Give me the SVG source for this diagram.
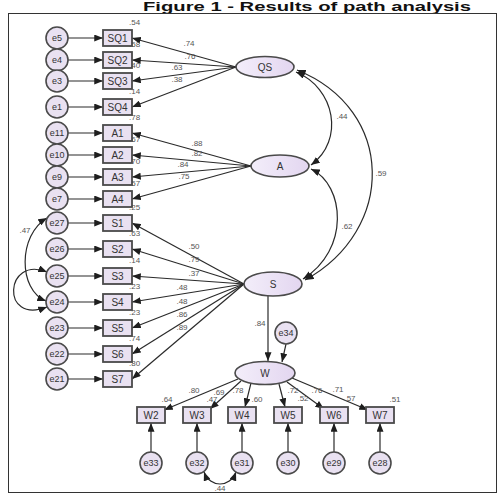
<svg xmlns="http://www.w3.org/2000/svg" width="502" height="495" viewBox="0 0 502 495">
<defs>
<style>
.ln{stroke:#2a2a2a;stroke-width:1.2;fill:none}
.cv{stroke:#2a2a2a;stroke-width:1.2;fill:none}
.box{fill:#e9e1f1;stroke:#4a4a4a;stroke-width:1.8}
.err{fill:#e9e1f1;stroke:#4a4a4a;stroke-width:1.6}
.lat{fill:url(#lg);stroke:#4a4a4a;stroke-width:1.6}
.nt{font-family:"Liberation Sans",Arial,sans-serif;font-size:10px;fill:#333;text-anchor:middle}
.et{font-family:"Liberation Sans",Arial,sans-serif;font-size:9px;fill:#333;text-anchor:middle}
.v{font-family:"Liberation Sans",Arial,sans-serif;font-size:8px;fill:#555}
.vm{font-family:"Liberation Sans",Arial,sans-serif;font-size:8px;fill:#555;text-anchor:middle}
</style>
<linearGradient id="lg" x1="0" y1="0" x2="1" y2="0">
<stop offset="0" stop-color="#f3eefa"/>
<stop offset="1" stop-color="#e3d6f0"/>
</linearGradient>
<marker id="ah" viewBox="0 0 10 8" refX="10" refY="4" markerWidth="9" markerHeight="7" markerUnits="userSpaceOnUse" orient="auto-start-reverse">
<path d="M0,0 L10,4 L0,8 z" fill="#1e1e1e"/>
</marker>
</defs>
<rect width="502" height="495" fill="#fff"/>
<text x="143" y="11" font-family="Liberation Sans,Arial,sans-serif" font-weight="bold" font-size="13" fill="#111" textLength="328" lengthAdjust="spacingAndGlyphs">Figure 1 - Results of path analysis</text>
<rect x="8.5" y="13.5" width="488" height="479" fill="none" stroke="#333" stroke-width="1"/>

<g id="connectors">
<path class="ln" marker-end="url(#ah)" d="M68,38 H103"/>
<path class="ln" marker-end="url(#ah)" d="M68,60 H103"/>
<path class="ln" marker-end="url(#ah)" d="M68,81 H103"/>
<path class="ln" marker-end="url(#ah)" d="M68,107 H103"/>
<path class="ln" marker-end="url(#ah)" d="M68,133 H103"/>
<path class="ln" marker-end="url(#ah)" d="M68,155 H103"/>
<path class="ln" marker-end="url(#ah)" d="M68,177 H103"/>
<path class="ln" marker-end="url(#ah)" d="M68,199 H103"/>
<path class="ln" marker-end="url(#ah)" d="M68,223 H103"/>
<path class="ln" marker-end="url(#ah)" d="M68,249 H103"/>
<path class="ln" marker-end="url(#ah)" d="M68,276 H103"/>
<path class="ln" marker-end="url(#ah)" d="M68,302 H103"/>
<path class="ln" marker-end="url(#ah)" d="M68,328 H103"/>
<path class="ln" marker-end="url(#ah)" d="M68,354 H103"/>
<path class="ln" marker-end="url(#ah)" d="M68,379 H103"/>

<path class="ln" marker-end="url(#ah)" d="M236,67 L132,38"/>
<path class="ln" marker-end="url(#ah)" d="M236,67 L132,60"/>
<path class="ln" marker-end="url(#ah)" d="M236,67 L132,81"/>
<path class="ln" marker-end="url(#ah)" d="M236,67 L132,107"/>

<path class="ln" marker-end="url(#ah)" d="M251,166 L132,133"/>
<path class="ln" marker-end="url(#ah)" d="M251,166 L132,155"/>
<path class="ln" marker-end="url(#ah)" d="M251,166 L132,177"/>
<path class="ln" marker-end="url(#ah)" d="M251,166 L132,199"/>

<path class="ln" marker-end="url(#ah)" d="M244,284 L132,223"/>
<path class="ln" marker-end="url(#ah)" d="M244,284 L132,249"/>
<path class="ln" marker-end="url(#ah)" d="M244,284 L132,276"/>
<path class="ln" marker-end="url(#ah)" d="M244,284 L132,302"/>
<path class="ln" marker-end="url(#ah)" d="M244,284 L132,328"/>
<path class="ln" marker-end="url(#ah)" d="M244,284 L132,354"/>
<path class="ln" marker-end="url(#ah)" d="M244,284 L132,379"/>

<path class="ln" marker-end="url(#ah)" d="M268,296 L268,361"/>
<path class="ln" marker-end="url(#ah)" d="M286,344 L282,362"/>

<path class="ln" marker-end="url(#ah)" d="M238,379 L164,410"/>
<path class="ln" marker-end="url(#ah)" d="M241,381 L210,409"/>
<path class="ln" marker-end="url(#ah)" d="M251,383 L245,407"/>
<path class="ln" marker-end="url(#ah)" d="M279,384 L285,407"/>
<path class="ln" marker-end="url(#ah)" d="M287,382 L324,409"/>
<path class="ln" marker-end="url(#ah)" d="M292,378 L368,410"/>

<path class="ln" marker-end="url(#ah)" d="M151,452 V423"/>
<path class="ln" marker-end="url(#ah)" d="M197,452 V423"/>
<path class="ln" marker-end="url(#ah)" d="M242,452 V423"/>
<path class="ln" marker-end="url(#ah)" d="M288,452 V423"/>
<path class="ln" marker-end="url(#ah)" d="M334,452 V423"/>
<path class="ln" marker-end="url(#ah)" d="M380,452 V423"/>

<path class="cv" marker-start="url(#ah)" marker-end="url(#ah)" d="M296,72 C335,88 345,140 311,165"/>
<path class="cv" marker-start="url(#ah)" marker-end="url(#ah)" d="M297,70 C396,110 396,230 305,280"/>
<path class="cv" marker-start="url(#ah)" marker-end="url(#ah)" d="M311,169 C345,185 350,250 303,279"/>
<path class="cv" marker-start="url(#ah)" marker-end="url(#ah)" d="M47,218 C18,235 18,290 46,301"/>
<path class="cv" marker-start="url(#ah)" marker-end="url(#ah)" d="M47,272 C5,255 0,325 47,307"/>
<path class="cv" marker-start="url(#ah)" marker-end="url(#ah)" d="M204,472 C210,488 230,488 236,472"/>
</g>

<g id="labels">
<text class="v" x="129" y="25">.54</text>
<text class="v" x="129" y="47">.58</text>
<text class="v" x="129" y="68">.40</text>
<text class="v" x="129" y="94">.14</text>
<text class="v" x="129" y="120">.78</text>
<text class="v" x="129" y="142">.67</text>
<text class="v" x="129" y="164">.70</text>
<text class="v" x="129" y="186">.57</text>
<text class="v" x="129" y="210">.25</text>
<text class="v" x="129" y="236">.63</text>
<text class="v" x="129" y="263">.14</text>
<text class="v" x="129" y="289">.23</text>
<text class="v" x="129" y="315">.23</text>
<text class="v" x="129" y="341">.74</text>
<text class="v" x="129" y="366">.80</text>

<text class="vm" x="189" y="46">.74</text>
<text class="vm" x="190" y="59">.76</text>
<text class="vm" x="177" y="70">.63</text>
<text class="vm" x="177" y="82">.38</text>
<text class="vm" x="197" y="146">.88</text>
<text class="vm" x="197" y="156">.82</text>
<text class="vm" x="183" y="167">.84</text>
<text class="vm" x="184" y="179">.75</text>
<text class="vm" x="194" y="249">.50</text>
<text class="vm" x="194" y="262">.79</text>
<text class="vm" x="194" y="276">.37</text>
<text class="vm" x="182" y="290">.48</text>
<text class="vm" x="182" y="304">.48</text>
<text class="vm" x="182" y="317">.86</text>
<text class="vm" x="182" y="330">.89</text>
<text class="vm" x="260" y="326">.84</text>

<text class="vm" x="342" y="119">.44</text>
<text class="vm" x="381" y="176">.59</text>
<text class="vm" x="347" y="229">.62</text>
<text class="vm" x="25" y="233">.47</text>
<text class="vm" x="220" y="491">.44</text>

<text class="vm" x="194" y="393">.80</text>
<text class="vm" x="219" y="395">.69</text>
<text class="vm" x="238" y="393">.78</text>
<text class="vm" x="293" y="393">.72</text>
<text class="vm" x="317" y="393">.76</text>
<text class="vm" x="338" y="392">.71</text>
<text class="vm" x="167" y="402">.64</text>
<text class="vm" x="212" y="402">.47</text>
<text class="vm" x="257" y="402">.60</text>
<text class="vm" x="303" y="401">.52</text>
<text class="vm" x="350" y="401">.57</text>
<text class="vm" x="395" y="402">.51</text>
</g>

<g id="QS"><ellipse class="lat" cx="265" cy="67" rx="29" ry="10.5"/><text class="nt" x="265" y="70.5">QS</text></g>
<g id="A"><ellipse class="lat" cx="280" cy="166" rx="29" ry="11"/><text class="nt" x="280" y="169.5">A</text></g>
<g id="S"><ellipse class="lat" cx="273" cy="284" rx="29" ry="12"/><text class="nt" x="273" y="287.5">S</text></g>
<g id="W"><ellipse class="lat" cx="265" cy="373" rx="30" ry="11.5"/><text class="nt" x="265" y="376.5">W</text></g>

<g id="SQ1"><rect class="box" x="103" y="30" width="29" height="16"/><text class="nt" x="117.5" y="41.5">SQ1</text></g>
<g id="SQ2"><rect class="box" x="103" y="52" width="29" height="16"/><text class="nt" x="117.5" y="63.5">SQ2</text></g>
<g id="SQ3"><rect class="box" x="103" y="73" width="29" height="16"/><text class="nt" x="117.5" y="84.5">SQ3</text></g>
<g id="SQ4"><rect class="box" x="103" y="99" width="29" height="16"/><text class="nt" x="117.5" y="110.5">SQ4</text></g>
<g id="A1"><rect class="box" x="103" y="125" width="29" height="16"/><text class="nt" x="117.5" y="136.5">A1</text></g>
<g id="A2"><rect class="box" x="103" y="147" width="29" height="16"/><text class="nt" x="117.5" y="158.5">A2</text></g>
<g id="A3"><rect class="box" x="103" y="169" width="29" height="16"/><text class="nt" x="117.5" y="180.5">A3</text></g>
<g id="A4"><rect class="box" x="103" y="191" width="29" height="16"/><text class="nt" x="117.5" y="202.5">A4</text></g>
<g id="S1"><rect class="box" x="103" y="215" width="29" height="16"/><text class="nt" x="117.5" y="226.5">S1</text></g>
<g id="S2"><rect class="box" x="103" y="241" width="29" height="16"/><text class="nt" x="117.5" y="252.5">S2</text></g>
<g id="S3"><rect class="box" x="103" y="268" width="29" height="16"/><text class="nt" x="117.5" y="279.5">S3</text></g>
<g id="S4"><rect class="box" x="103" y="294" width="29" height="16"/><text class="nt" x="117.5" y="305.5">S4</text></g>
<g id="S5"><rect class="box" x="103" y="320" width="29" height="16"/><text class="nt" x="117.5" y="331.5">S5</text></g>
<g id="S6"><rect class="box" x="103" y="346" width="29" height="16"/><text class="nt" x="117.5" y="357.5">S6</text></g>
<g id="S7"><rect class="box" x="103" y="371" width="29" height="16"/><text class="nt" x="117.5" y="382.5">S7</text></g>

<g id="e5"><circle class="err" cx="57" cy="38" r="11"/><text class="et" x="57" y="41">e5</text></g>
<g id="e4"><circle class="err" cx="57" cy="60" r="11"/><text class="et" x="57" y="63">e4</text></g>
<g id="e3"><circle class="err" cx="57" cy="81" r="11"/><text class="et" x="57" y="84">e3</text></g>
<g id="e1"><circle class="err" cx="57" cy="107" r="11"/><text class="et" x="57" y="110">e1</text></g>
<g id="e11"><circle class="err" cx="57" cy="133" r="11"/><text class="et" x="57" y="136">e11</text></g>
<g id="e10"><circle class="err" cx="57" cy="155" r="11"/><text class="et" x="57" y="158">e10</text></g>
<g id="e9"><circle class="err" cx="57" cy="177" r="11"/><text class="et" x="57" y="180">e9</text></g>
<g id="e7"><circle class="err" cx="57" cy="199" r="11"/><text class="et" x="57" y="202">e7</text></g>
<g id="e27"><circle class="err" cx="57" cy="223" r="11"/><text class="et" x="57" y="226">e27</text></g>
<g id="e26"><circle class="err" cx="57" cy="249" r="11"/><text class="et" x="57" y="252">e26</text></g>
<g id="e25"><circle class="err" cx="57" cy="276" r="11"/><text class="et" x="57" y="279">e25</text></g>
<g id="e24"><circle class="err" cx="57" cy="302" r="11"/><text class="et" x="57" y="305">e24</text></g>
<g id="e23"><circle class="err" cx="57" cy="328" r="11"/><text class="et" x="57" y="331">e23</text></g>
<g id="e22"><circle class="err" cx="57" cy="354" r="11"/><text class="et" x="57" y="357">e22</text></g>
<g id="e21"><circle class="err" cx="57" cy="379" r="11"/><text class="et" x="57" y="382">e21</text></g>

<g id="e34"><circle class="err" cx="286" cy="333" r="11"/><text class="et" x="286" y="336">e34</text></g>

<g id="W2"><rect class="box" x="137" y="407" width="28" height="16"/><text class="nt" x="151" y="418.5">W2</text></g>
<g id="W3"><rect class="box" x="183" y="407" width="28" height="16"/><text class="nt" x="197" y="418.5">W3</text></g>
<g id="W4"><rect class="box" x="228" y="407" width="28" height="16"/><text class="nt" x="242" y="418.5">W4</text></g>
<g id="W5"><rect class="box" x="274" y="407" width="28" height="16"/><text class="nt" x="288" y="418.5">W5</text></g>
<g id="W6"><rect class="box" x="320" y="407" width="28" height="16"/><text class="nt" x="334" y="418.5">W6</text></g>
<g id="W7"><rect class="box" x="366" y="407" width="28" height="16"/><text class="nt" x="380" y="418.5">W7</text></g>

<g id="e33"><circle class="err" cx="151" cy="463" r="11"/><text class="et" x="151" y="466">e33</text></g>
<g id="e32"><circle class="err" cx="197" cy="463" r="11"/><text class="et" x="197" y="466">e32</text></g>
<g id="e31"><circle class="err" cx="242" cy="463" r="11"/><text class="et" x="242" y="466">e31</text></g>
<g id="e30"><circle class="err" cx="288" cy="463" r="11"/><text class="et" x="288" y="466">e30</text></g>
<g id="e29"><circle class="err" cx="334" cy="463" r="11"/><text class="et" x="334" y="466">e29</text></g>
<g id="e28"><circle class="err" cx="380" cy="463" r="11"/><text class="et" x="380" y="466">e28</text></g>
</svg>
